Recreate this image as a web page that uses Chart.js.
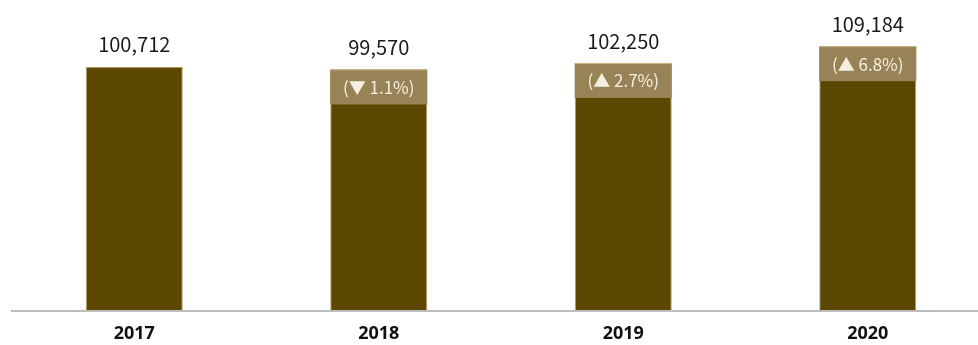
<!DOCTYPE html>
<html>
<head>
<meta charset="utf-8">
<script src="https://cdn.jsdelivr.net/npm/chart.js@4"></script>
<style>
  html, body { margin: 0; padding: 0; background: #fff; overflow: hidden; }
  #wrap { width: 990px; height: 358px; }
</style>
</head>
<body>
<div id="wrap"><canvas id="myChart"></canvas></div>
<script>
const years = ['2017', '2018', '2019', '2020'];
const totals = [100712, 99570, 102250, 109184];

const barColor = '#5c4700';
const bandColor = '#978356';

// change vs. previous year, shown inside the light band on top of each bar
function changeLabel(i) {
  const pct = (totals[i] - totals[i - 1]) / totals[i - 1] * 100;
  const arrow = pct < 0 ? '\u25BC' : '\u25B2';
  return '(' + arrow + ' ' + Math.abs(pct).toFixed(1) + '%)';
}

const barLabels = {
  id: 'barLabels',
  afterDatasetsDraw(chart) {
    const ctx = chart.ctx;
    const meta = chart.getDatasetMeta(0);
    ctx.save();
    meta.data.forEach((bar, i) => {
      const left = bar.x - bar.width / 2;
      if (i > 0) {
        ctx.fillStyle = bandColor;
        ctx.fillRect(left, bar.y, bar.width, 35);
        ctx.fillStyle = '#c9b57f';
        ctx.fillRect(left, bar.y, bar.width, 1);
        ctx.fillStyle = '#f4efe2';
        ctx.font = '17px "Noto Sans CJK KR", "Noto Sans", sans-serif';
        ctx.textAlign = 'center';
        ctx.textBaseline = 'middle';
        ctx.fillText(changeLabel(i), bar.x, bar.y + 18);
      }
      ctx.fillStyle = '#1a1a1a';
      ctx.font = '20px "Noto Sans CJK KR", "Noto Sans", sans-serif';
      ctx.textAlign = 'center';
      ctx.textBaseline = 'middle';
      ctx.fillText(totals[i].toLocaleString('en-US'), bar.x, bar.y - 22);
    });
    // baseline
    const y0 = chart.scales.y.getPixelForValue(0);
    ctx.fillStyle = '#bdbdbd';
    ctx.fillRect(chart.chartArea.left - 1, Math.round(y0), chart.width, 2);
    ctx.restore();
  }
};

const ctx = document.getElementById('myChart').getContext('2d');
const myChart = new Chart(ctx, {
  type: 'bar',
  data: {
    labels: years,
    datasets: [{
      data: totals,
      backgroundColor: barColor,
      borderColor: '#b9a46c',
      borderWidth: 1,
      barPercentage: 0.397,
      categoryPercentage: 1
    }]
  },
  options: {
    responsive: true,
    maintainAspectRatio: false,
    animation: false,
    layout: { padding: { left: 12, right: 0, top: 20, bottom: 0 } },
    plugins: { legend: { display: false }, tooltip: { enabled: false } },
    scales: {
      x: {
        grid: { display: false, drawTicks: false },
        border: { display: false },
        ticks: {
          padding: 13,
          color: '#111',
          font: { family: '"Noto Sans", sans-serif', size: 18, weight: 'bold' }
        }
      },
      y: {
        display: false,
        min: 0,
        max: 120000
      }
    }
  },
  plugins: [barLabels]
});
</script>
</body>
</html>
